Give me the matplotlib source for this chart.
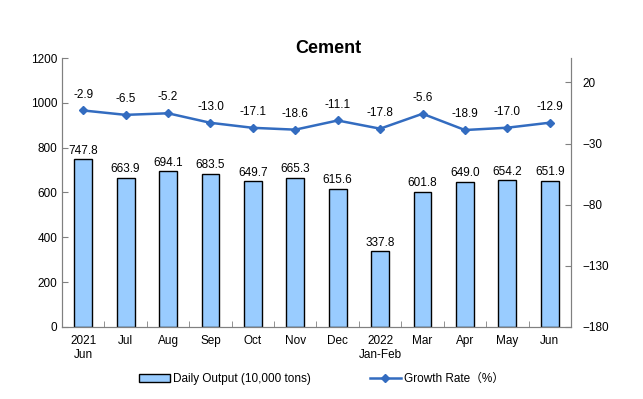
import numpy as np
import matplotlib.pyplot as plt
from matplotlib.lines import Line2D
from matplotlib.patches import Patch

plt.rcParams['font.family'] = ['Liberation Sans', 'Noto Sans CJK SC', 'DejaVu Sans']

months = ['2021\nJun', 'Jul', 'Aug', 'Sep', 'Oct', 'Nov', 'Dec',
          '2022\nJan-Feb', 'Mar', 'Apr', 'May', 'Jun']
output = [747.8, 663.9, 694.1, 683.5, 649.7, 665.3, 615.6, 337.8, 601.8, 649.0, 654.2, 651.9]
growth = [-2.9, -6.5, -5.2, -13.0, -17.1, -18.6, -11.1, -17.8, -5.6, -18.9, -17.0, -12.9]

fig = plt.figure(figsize=(6.43, 3.99), dpi=100)
ax = fig.add_axes([0.0964, 0.1805, 0.7916, 0.6741])
x = np.arange(len(months))

ax.bar(x, output, width=0.42, color='#99CCFF', edgecolor='black', linewidth=1)
for xi, v in zip(x, output):
    ax.text(xi, v + 12, f'{v:.1f}', ha='center', va='bottom', fontsize=8.5)

ax.set_ylim(0, 1200)
ax.set_yticks(range(0, 1201, 200))
ax.set_xlim(-0.5, len(months) - 0.5)
ax.set_xticks(x)
ax.set_xticklabels(months, fontsize=8.5)
ax.set_xticks(np.arange(-0.5, len(months)), minor=True)
ax.tick_params(axis='x', which='major', length=0, pad=6)
ax.tick_params(axis='x', which='minor', direction='in', length=4, color='#808080')
ax.tick_params(axis='y', direction='in', length=4, labelsize=8.5, color='#808080')
ax.spines['top'].set_visible(False)
for s in ['left', 'bottom', 'right']:
    ax.spines[s].set_color('#808080')

ax2 = ax.twinx()
ax2.plot(x, growth, color='#336CC0', marker='D', markersize=4, linewidth=1.8)
for xi, v in zip(x, growth):
    ax2.text(xi, v + 8, f'{v:.1f}', ha='center', va='bottom', fontsize=8.5)
ax2.set_ylim(-180, 40)
ax2.set_yticks(range(-180, 21, 50))
ax2.tick_params(axis='y', direction='in', length=4, labelsize=8.5, color='#808080', pad=8)
ax2.spines['top'].set_visible(False)
for s in ['left', 'bottom', 'right']:
    ax2.spines[s].set_color('#808080')

fig.text(0.51, 0.878, 'Cement', ha='center', va='center', fontsize=13, fontweight='bold')

handles = [Patch(facecolor='#99CCFF', edgecolor='black', label='Daily Output (10,000 tons)'),
           Line2D([0], [0], color='#336CC0', marker='D', markersize=4, linewidth=1.8,
                  label='Growth Rate（%）')]
fig.legend(handles=handles, loc='center', bbox_to_anchor=(0.5, 0.05), ncol=2,
           frameon=False, fontsize=8.5, columnspacing=5, handlelength=2.6, handletextpad=0.3)

fig.savefig('out.png', dpi=100)
